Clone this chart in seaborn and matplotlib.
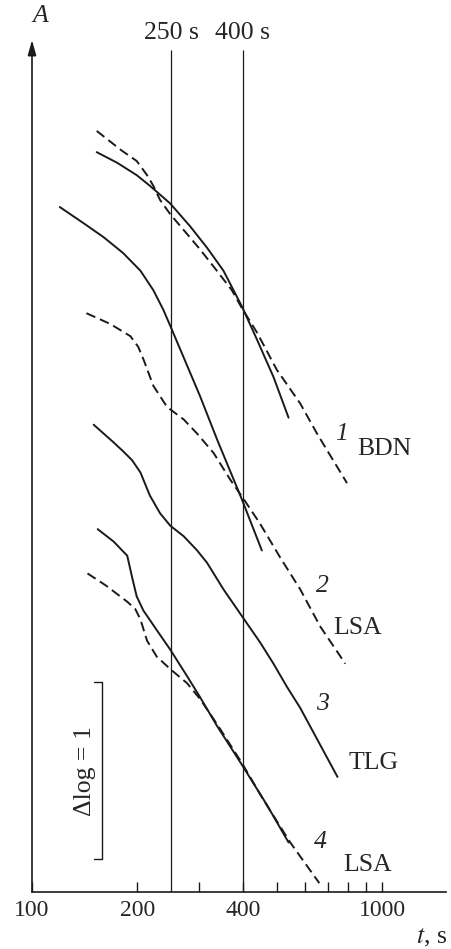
import matplotlib
matplotlib.use('Agg')
import matplotlib.pyplot as plt
import numpy as np
import pandas as pd
import seaborn as sns

sns.set_style('white')
plt.rcParams['font.family'] = ['Liberation Serif', 'DejaVu Serif']
plt.rcParams['mathtext.fontset'] = 'stix'

# time t (s) and log A (arbitrary offset, units of Δlog)
t1_solid = [153, 175, 199, 217, 232, 248, 283, 316, 352, 397, 439, 489, 540]
y1_solid = [4.18, 4.12, 4.05, 3.99, 3.94, 3.89, 3.76, 3.64, 3.51, 3.31, 3.12, 2.91, 2.68]
t1_dash = [153, 180, 199, 213, 222, 232, 248, 271, 302, 337, 372, 397, 439, 500, 583, 651, 793]
y1_dash = [4.30, 4.19, 4.13, 4.05, 3.99, 3.91, 3.83, 3.74, 3.63, 3.51, 3.40, 3.30, 3.16, 2.95, 2.76, 2.59, 2.31]

t2_solid = [120, 140, 160, 182, 204, 222, 237, 248, 271, 302, 337, 397, 453]
y2_solid = [3.87, 3.78, 3.70, 3.61, 3.51, 3.40, 3.29, 3.20, 3.02, 2.80, 2.56, 2.22, 1.93]
t2_dash = [143, 167, 191, 201, 208, 222, 243, 271, 296, 330, 368, 402, 448, 511, 583, 665, 784]
y2_dash = [3.27, 3.21, 3.14, 3.08, 3.01, 2.86, 2.74, 2.67, 2.59, 2.48, 2.33, 2.22, 2.08, 1.89, 1.71, 1.50, 1.29]

t3_solid = [150, 171, 182, 193, 204, 217, 232, 248, 271, 296, 316, 352, 397, 448, 489, 534, 583, 745]
y3_solid = [2.64, 2.54, 2.49, 2.44, 2.37, 2.24, 2.14, 2.07, 2.01, 1.93, 1.86, 1.71, 1.56, 1.41, 1.29, 1.16, 1.04, 0.65]

t4_solid = [154, 171, 187, 193, 199, 208, 227, 248, 277, 302, 337, 397, 469, 540]
y4_solid = [2.05, 1.98, 1.90, 1.78, 1.67, 1.59, 1.48, 1.37, 1.22, 1.10, 0.94, 0.72, 0.49, 0.28]
t4_dash = [144, 163, 187, 197, 204, 213, 227, 248, 277, 302, 337, 397, 458, 546, 661]
y4_dash = [1.80, 1.73, 1.64, 1.60, 1.54, 1.42, 1.33, 1.26, 1.18, 1.09, 0.95, 0.73, 0.52, 0.28, 0.05]

curves = [
    (t1_solid, y1_solid, '-'), (t1_dash, y1_dash, '--'),
    (t2_solid, y2_solid, '-'), (t2_dash, y2_dash, '--'),
    (t3_solid, y3_solid, '-'),
    (t4_solid, y4_solid, '-'), (t4_dash, y4_dash, '--'),
]
markers_t = [250, 400]
labels = [('1', 'BDN', 764, 2.59, 848, 2.50),
          ('2', 'LSA', 674, 1.73, 724, 1.49),
          ('3', 'TLG', 674, 1.06, 800, 0.73),
          ('4', 'LSA', 665, 0.28, 774, 0.15)]

fig = plt.figure(figsize=(4.51, 9.49), dpi=100)
ax = fig.add_axes([32 / 451, 57 / 949, 414 / 451, 852 / 949])
ink = '#1a1a1a'
fs = 18.5

for t, y, ls in curves:
    df = pd.DataFrame({'t': t, 'y': y})
    sns.lineplot(data=df, x='t', y='y', ax=ax, color=ink, lw=1.4, estimator=None,
                 linestyle=(0, (5, 2.6)) if ls == '--' else '-',
                 solid_joinstyle='round', dash_joinstyle='round')

ax.set_xscale('log')
ax.set_xlim(100, 1520)
ax.set_ylim(0, 852 / 177)
ax.vlines(markers_t, 0, 4.757, color=ink, lw=0.9)
for m in markers_t:
    ax.text(m, 4.853, '%d s' % m, ha='center', va='center', fontsize=fs, clip_on=False)

for num, name, tx, ty, nx, ny in labels:
    ax.text(tx, ty, num, ha='center', va='center', fontsize=fs, style='italic')
    ax.text(nx, ny, name, ha='left', va='center', fontsize=fs)

# scale bar
ax.plot([150.5, 158, 158, 150.5], [1.186, 1.186, 0.186, 0.186], color=ink, lw=1.0)
ax.text(141.7, 0.684, 'Δlog = 1', rotation=90, ha='center', va='center', fontsize=fs)

for s in ['top', 'right', 'left']:
    ax.spines[s].set_visible(False)
ax.spines['bottom'].set_linewidth(1.2)
ax.spines['bottom'].set_color(ink)
ax.set_yticks([])
ax.set_xticks([100, 200, 400, 1000], ['100', '200', '400', '1000'])
ax.set_xticks([300, 500, 600, 700, 800, 900], minor=True)
ax.xaxis.set_minor_formatter(matplotlib.ticker.NullFormatter())
ax.tick_params(axis='x', which='both', direction='in', length=7, width=1.0,
               color=ink, labelsize=17, pad=6, bottom=True)
ax.set_xlabel('')
ax.set_ylabel('')

ax.annotate('', xy=(0, 1), xytext=(0, 0), xycoords='axes fraction',
            arrowprops=dict(arrowstyle='-|>,head_length=0.9,head_width=0.25',
                            mutation_scale=10, lw=1.2, color=ink, shrinkA=0, shrinkB=0))
ax.text(105.4, 4.949, 'A', ha='center', va='center', fontsize=fs, style='italic', clip_on=False)
fig.text(447 / 451, 1 - 938 / 949, r'$t$, s', ha='right', va='center', fontsize=fs)

fig.savefig('out.png', dpi=100)
